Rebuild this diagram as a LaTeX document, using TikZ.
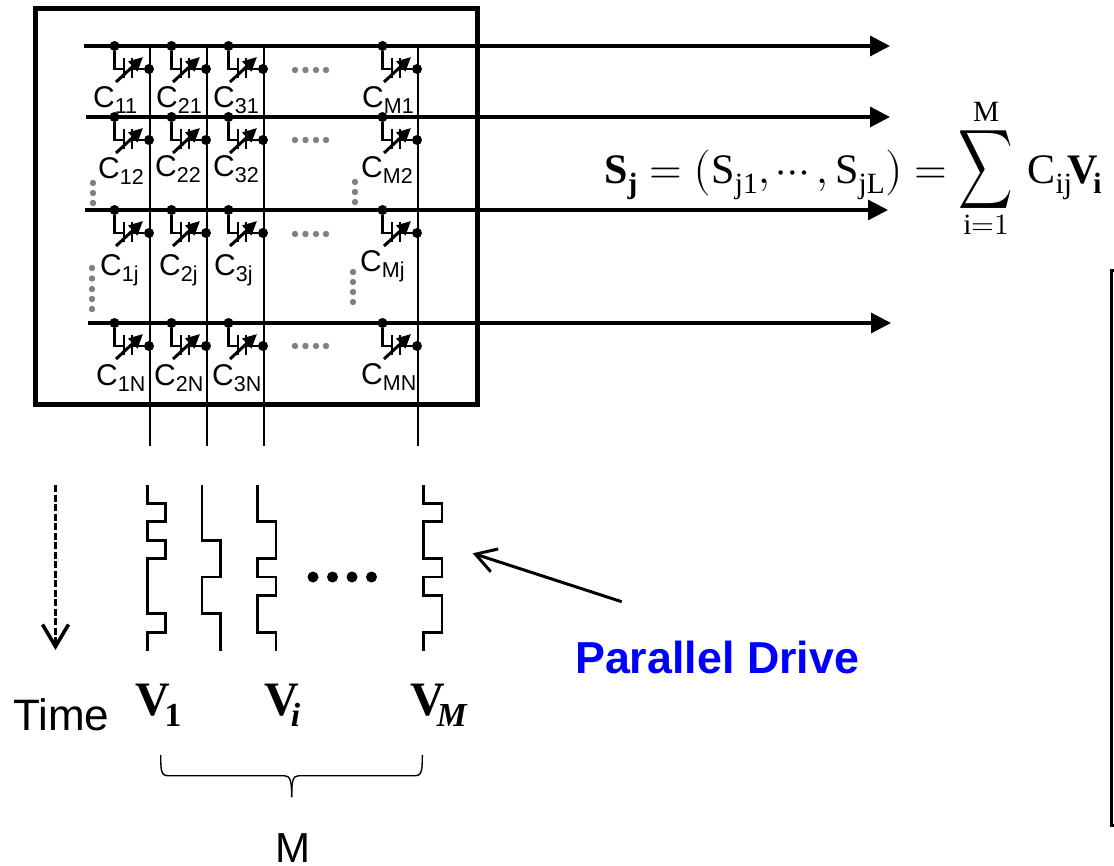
\documentclass[tikz,border=0pt]{standalone}
\usepackage{amsmath}
\usepackage{fontspec}
\usepackage{unicode-math}
\setmainfont{Liberation Sans}
\setmathfont{Latin Modern Math}
\setmathrm{Liberation Serif}
\newfontfamily\eqfont{Liberation Serif}
\usetikzlibrary{arrows.meta}
\definecolor{dotgray}{RGB}{128,128,128}
\definecolor{driveblue}{RGB}{0,0,255}
\newcommand{\capname}[1]{\fontsize{30}{30}\selectfont C\raisebox{-6pt}{\fontsize{21.5}{21.5}\selectfont #1}}
\newcommand{\bfit}[1]{\text{\eqfont\bfseries\itshape #1}}

\begin{document}
\begin{tikzpicture}[x=1pt, y=-1pt, line cap=butt]
  \tikzset{
    wire/.style={line width=2.2pt},
    busline/.style={line width=3.2pt, -{Triangle[length=20pt,width=20pt]}},
    wave/.style={line width=2.8pt, line join=miter},
    joint/.style={circle, fill=black, inner sep=0pt, minimum size=10pt},
    graydot/.style={circle, fill=dotgray, inner sep=0pt, minimum size=6.4pt},
    bigdot/.style={circle, fill=black, inner sep=0pt, minimum size=11pt},
    capname/.style={anchor=base west, inner sep=0pt},
    mathname/.style={anchor=base west, inner sep=0pt, font=\fontsize{48}{48}\selectfont}
  }
  \useasboundingbox (0,0) rectangle (1114,865);

  % array frame
  \draw[line width=5pt] (35.5,8.5) rectangle (477,404.5);

  % row lines
  \foreach \rowid/\rowy/\rowstart/\rowend in {1/46/84/890, 2/117/86/890, 3/210/85/888, 4/323/88/891} {
    \coordinate (rowL\rowid) at (\rowstart,\rowy);
    \coordinate (rowR\rowid) at (\rowend,\rowy);
    \draw[busline] (rowL\rowid) -- (rowR\rowid);
  }

  % column lines
  \foreach \colid/\colx in {1/150, 2/207, 3/264, 4/418} {
    \coordinate (colT\colid) at (\colx,46);
    \coordinate (colB\colid) at (\colx,446);
    \draw[wire] (colT\colid) -- (colB\colid);
  }

  % cells
  \foreach \rowid/\rowy in {1/46, 2/117, 3/210, 4/323} {
    \foreach \colid/\colx in {1/150, 2/207, 3/264, 4/418} {
      \node[joint] (top\colid\rowid) at (\colx-35.5,\rowy) {};
      \node[joint] (low\colid\rowid) at (\colx-1,\rowy+23) {};
      \coordinate (plateA\colid\rowid) at (\colx-26,\rowy+23);
      \coordinate (plateB\colid\rowid) at (\colx-18,\rowy+23);
      \draw[line width=2.4pt] (top\colid\rowid) |- (plateA\colid\rowid);
      \draw[line width=2.4pt] (plateB\colid\rowid) -- (low\colid\rowid);
      \draw[line width=2.6pt] (\colx-26,\rowy+12) -- (\colx-26,\rowy+32);
      \draw[line width=2.6pt] (\colx-18,\rowy+12) -- (\colx-18,\rowy+32);
      \draw[line width=3pt, -{Triangle[length=14pt,width=13pt]}] (\colx-34,\rowy+36) -- (\colx-7,\rowy+11);
    }
  }

  % capacitance labels
  \node[capname] (c11) at (93,107)  {\capname{11}};
  \node[capname] (c21) at (156,107) {\capname{21}};
  \node[capname] (c31) at (213,107) {\capname{31}};
  \node[capname] (cm1) at (362,107) {\capname{M1}};
  \node[capname] (c12) at (98,178)  {\capname{12}};
  \node[capname] (c22) at (155,176) {\capname{22}};
  \node[capname] (c32) at (213,176) {\capname{32}};
  \node[capname] (cm2) at (361,177) {\capname{M2}};
  \node[capname] (c1j) at (100,275) {\capname{1j}};
  \node[capname] (c2j) at (159,275) {\capname{2j}};
  \node[capname] (c3j) at (214,275) {\capname{3j}};
  \node[capname] (cmj) at (360,271) {\capname{Mj}};
  \node[capname] (c1n) at (96,385)  {\capname{1N}};
  \node[capname] (c2n) at (154,385) {\capname{2N}};
  \node[capname] (c3n) at (212,385) {\capname{3N}};
  \node[capname] (cmn) at (361,384) {\capname{MN}};

  % gray dots
  \foreach \rowy in {70, 140, 234, 346} {
    \foreach \dotx [count=\dotid] in {295, 305.5, 316, 326} {
      \node[graydot] (gr\rowy\dotid) at (\dotx,\rowy) {};
    }
  }
  \foreach \doty in {183, 193, 203} {
    \node[graydot] (gl\doty) at (93,\doty) {};
    \node[graydot] (gm\doty) at (355,\doty-1) {};
  }
  \foreach \doty in {268, 278.5, 289, 299, 309} {
    \node[graydot] (gn\doty) at (92,\doty) {};
  }
  \foreach \doty in {272, 282, 292, 302} {
    \node[graydot] (gp\doty) at (353,\doty) {};
  }

  % equation
  \node[anchor=base west, inner sep=0pt, font=\fontsize{42}{42}\selectfont] (eqS) at (604,183)
    {$\mathbf{S_j}=\bigl(\mathrm{S_{j1}},\cdots,\mathrm{S_{jL}}\bigr)=\mathop{\scalebox{0.9}[1.32]{$\displaystyle\sum$}}\limits_{\mathrm{i}=1}^{\mathrm{M}}\,\mathrm{C_{ij}}\mkern-2mu\mathbf{V}\mkern-2mu_{\mathbf{i}}$};

  % right frame
  \draw[line width=3pt] (1114,270) -| (1111.5,825.5) -- (1114,825.5);

  % time arrow
  \coordinate (timeT) at (55.5,485);
  \coordinate (timeB) at (55.5,650);
  \draw[line width=3.6pt, dash pattern=on 7pt off 2.5pt, -{Straight Barb[length=22pt,width=26pt]}] (timeT) -- (timeB);
  \node[anchor=base west, inner sep=0pt, font=\fontsize{44}{44}\selectfont] (timeL) at (13,730) {Time};

  % waveforms
  \def\wy#1{485+18.4*#1}
  \draw[wave] (147.5,485) -- (147.5,{\wy{1}}) -- (165.5,{\wy{1}}) -- (165.5,{\wy{2}}) -- (147.5,{\wy{2}}) -- (147.5,{\wy{3}}) -- (165.5,{\wy{3}}) -- (165.5,{\wy{4}}) -- (147.5,{\wy{4}}) -- (147.5,{\wy{7}}) -- (165.5,{\wy{7}}) -- (165.5,{\wy{8}}) -- (147.5,{\wy{8}}) -- (147.5,{\wy{9}});
  \draw[wave] (202,485) -- (202,{\wy{3}}) -- (220.5,{\wy{3}}) -- (220.5,{\wy{5}}) -- (202,{\wy{5}}) -- (202,{\wy{7}}) -- (220.5,{\wy{7}}) -- (220.5,{\wy{9}});
  \draw[wave] (257.5,485) -- (257.5,{\wy{2}}) -- (276,{\wy{2}}) -- (276,{\wy{4}}) -- (257.5,{\wy{4}}) -- (257.5,{\wy{5}}) -- (276,{\wy{5}}) -- (276,{\wy{6}}) -- (257.5,{\wy{6}}) -- (257.5,{\wy{8}}) -- (276,{\wy{8}}) -- (276,{\wy{9}});
  \draw[wave] (423.5,485) -- (423.5,{\wy{1}}) -- (442,{\wy{1}}) -- (442,{\wy{2}}) -- (423.5,{\wy{2}}) -- (423.5,{\wy{4}}) -- (442,{\wy{4}}) -- (442,{\wy{5}}) -- (423.5,{\wy{5}}) -- (423.5,{\wy{6}}) -- (442,{\wy{6}}) -- (442,{\wy{8}}) -- (423.5,{\wy{8}}) -- (423.5,{\wy{9}});
  \foreach \dotx [count=\dotid] in {313, 332.5, 352, 371.5} {
    \node[bigdot] (dots\dotid) at (\dotx,577) {};
  }

  % drive labels
  \node[mathname] (v1) at (135,715) {$\mathbf{V}\mkern-2mu_{\mathbf{1}}$};
  \node[mathname] (vi) at (264,715) {$\mathbf{V}\mkern-3mu_{\bfit{i}}$};
  \node[mathname] (vm) at (410,715) {$\mathbf{V}\mkern-3mu_{\bfit{M}}$};

  % parallel drive
  \node[anchor=base west, inner sep=0pt, text=driveblue, font=\fontsize{44.8}{44.8}\selectfont\bfseries] (driveL) at (575,673) {Parallel Drive};
  \coordinate (driveA) at (621.7,601.7);
  \coordinate (driveB) at (472.7,553.3);
  \draw[line width=3pt, -{Straight Barb[length=20pt,width=24pt]}] (driveA) -- (driveB);

  % brace
  \draw[line width=1.4pt] (160.7,755) .. controls (160.7,770) and (161,775.7) .. (168,775.7) -- (284,775.7) .. controls (290,775.7) and (291.7,780) .. (291.7,797);
  \draw[line width=1.4pt] (422.3,755) .. controls (422.3,770) and (422,775.7) .. (415,775.7) -- (299,775.7) .. controls (293,775.7) and (291.7,780) .. (291.7,797);
  \node[anchor=base, inner sep=0pt, font=\fontsize{42}{42}\selectfont] (braceL) at (293,862.5) {M};
\end{tikzpicture}
\end{document}
